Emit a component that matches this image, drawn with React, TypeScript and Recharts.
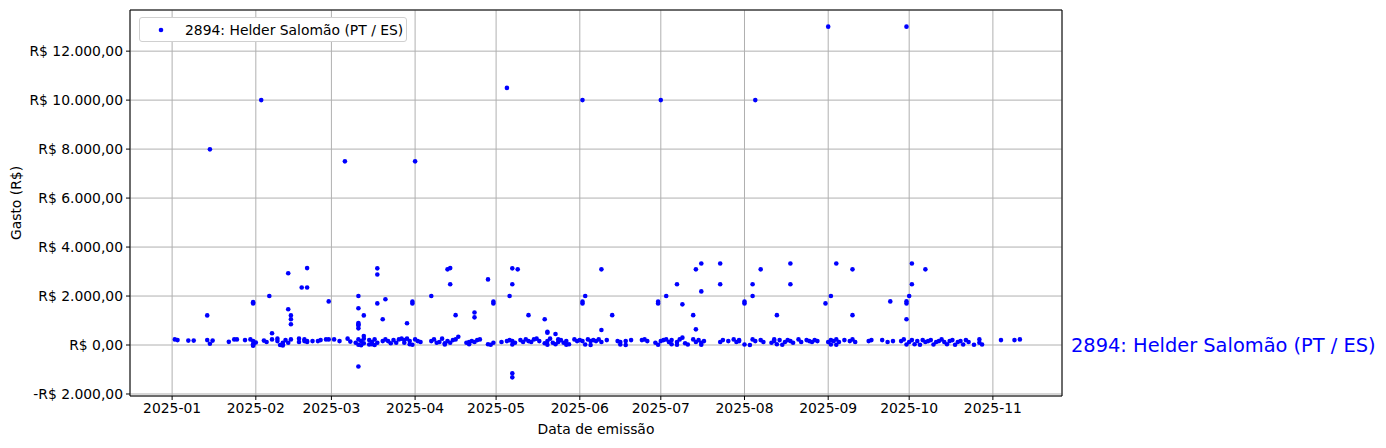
import {
  ScatterChart,
  Scatter,
  XAxis,
  YAxis,
  CartesianGrid,
  Legend,
  ReferenceDot,
  ReferenceLine,
} from "recharts";

const DIA_MS = 86400000;
const INICIO = Date.UTC(2025, 0, 1);

const deputado = "2894: Helder Salomão (PT / ES)";

const meses = [
  "2025-01", "2025-02", "2025-03", "2025-04", "2025-05", "2025-06",
  "2025-07", "2025-08", "2025-09", "2025-10", "2025-11",
];
const ticksGasto = [-2000, 0, 2000, 4000, 6000, 8000, 10000, 12000];

// dias contados a partir de 2025-01-01
const diasAltos = [14, 33, 64, 90, 124, 152, 181, 216, 243, 272];
const gastosAltos = [7990, 10000, 7500, 7500, 10500, 10000, 10000, 10000, 13000, 13000];

const diasMedios = [
  13, 30, 30, 36, 43, 43, 44, 44, 44, 37, 48, 50, 50, 58, 69, 69, 71, 69, 69, 69, 69, 69, 71,
  76, 76, 76, 79, 78, 87, 89, 89, 96, 102, 103, 103, 105, 112, 112, 117, 119, 119, 125, 126,
  128, 126, 126, 126, 132, 138, 139, 139, 142, 152, 152, 153, 159, 159, 163, 180, 180, 183,
  187, 189, 194, 196, 196, 193, 194, 203, 203, 212, 212, 215, 215, 218, 224, 229, 229, 242,
  244, 246, 252, 252, 266, 272, 272, 272, 273, 274, 274, 279,
];
const gastosMedios = [
  1210, 1750, 1700, 2000, 2930, 1460, 1210, 1050, 850, 480, 2350, 2350, 3140, 1780, 2000, 1500,
  1210, 900, 850, 800, 680, -880, 370,
  3130, 2880, 1700, 1870, 1050, 890, 1770, 1700, 2000, 3090, 3140, 2480, 1220, 1330, 1130,
  2680, 1770, 1700, 2000, 3130, 3090, 2480, -1150, -1320, 1220, 1050, 540, 500, 450, 1770,
  1700, 2000, 3090, 610, 1220, 1770, 1700, 2000, 2480, 1660, 3090, 3330, 2190, 1220, 640,
  3330, 2480, 1770, 1700, 2480, 2000, 3090, 1220, 3330, 2480, 1700, 2000, 3330, 3090, 1220,
  1780, 1780, 1700, 1050, 2000, 3330, 2480, 3090,
];

const diasBaixos = [
  1, 2, 6, 8, 13, 15, 14, 21, 23, 24, 27, 29, 30, 30, 30, 31, 34, 35, 37, 39, 39, 41, 41, 42,
  43, 44, 47, 47, 49, 49, 50,
  50, 52, 54, 55, 57, 58, 60, 62, 65, 66, 68, 69, 70, 71, 71, 73, 74, 74, 75, 76, 78, 79, 80,
  81, 82, 83, 84, 85, 86, 86, 87, 88, 90, 91, 92, 96, 97, 98, 99, 100, 101, 102, 103, 104,
  105, 106, 109, 110, 111, 112, 113, 114, 117, 119, 122, 124, 125, 126, 127, 129, 130, 131,
  132, 133, 134, 135, 136, 138, 139, 140, 141, 143, 143, 144, 145, 146, 147, 149, 150, 151,
  152, 154, 155, 156,
  157, 158, 159, 161, 165, 166, 168, 170, 174, 175, 176, 179, 181, 182, 183, 184, 185, 187,
  188, 189, 190, 193, 194, 195, 196, 197, 203, 204, 206, 208, 209, 210,
  210, 215, 216, 218, 219, 222, 223, 223, 225, 227, 228, 229, 230, 232, 233, 235, 236, 237,
  238, 239, 243, 244, 245, 246, 247, 249, 251, 252, 253, 258, 259,
  263, 265, 267, 270, 271, 273, 274, 276, 278, 279, 280, 281, 283, 284, 285, 286, 288, 289,
  291, 292, 294, 295, 299, 299, 307, 312, 314,
  30, 40, 41, 69, 70, 73, 75, 88, 89, 101, 110, 118, 126, 139, 142, 146, 153, 155, 166, 168,
  180, 185, 187, 191, 196, 212, 214, 224, 226, 244, 246, 272, 275, 277, 282, 287, 290, 293,
  297, 300,
];
const gastosBaixos = [
  230, 200, 180, 180, 200, 180, 50, 130, 230, 230, 200, 230, 160, 30, -30, 100, 180, 120, 230,
  260, 160, 95, 30, 200, 95, 230, 260, 120, 160, 230, 120,
  160, 160, 160, 200, 230, 230, 230, 160, 260, 140, 95, 230, 160, 70, 260, 200, 120, 30, 230,
  95, 160, 230, 160, 70, 200, 95, 230, 260, 95, 200, 260, 160, 230, 160, 120, 160, 230, 95,
  120, 260, 70, 160, 95, 200,
  230, 340, 95, 120, 160, 120, 200, 230, 30, 95, 120, 160, 200, 160, 95, 200, 120, 230, 160,
  120, 230, 260, 160, 70, 160, 260, 95, 230, 120, 200, 95, 160, 30, 230, 160, 200, 160, 230,
  160, 200,
  160, 230, 120, 200, 160, 120, 160, 200, 200, 230, 160, 95, 160, 200, 230, 120, 200, 120,
  230, 300, 70, 230, 120, 200, 95, 160, 120, 200, 160, 230, 120, 200,
  160, 230, 160, 200, 120, 95, 230, 160, 200, 120, 200, 160, 95, 230, 120, 200, 160, 120, 200,
  160, 120, 200, 160, 230, 120, 200, 160, 230, 120, 160, 200,
  200, 120, 160, 160, 230, 120, 200, 160, 200, 120, 160, 200, 120, 160, 230, 120, 160, 200,
  120, 160, 200, 120, 230, 95, 200, 200, 230,
  0, 0, -20, 10, -10, 20, 0, 30, 10, 20, 30, 10, 20, 10, 30, 10, 20, 0, 20, 0, 10, 30, 10, 20,
  10, 20, 0, 30, 10, 20, 10, 20, 30, 10, 20, 30, 10, 20, 10, 20,
];

const paraData = (d: number) => INICIO + d * DIA_MS;

const pontos = [
  ...diasBaixos.map((d, i) => ({ x: paraData(d), y: gastosBaixos[i] })),
  ...diasMedios.map((d, i) => ({ x: paraData(d), y: gastosMedios[i] })),
  ...diasAltos.map((d, i) => ({ x: paraData(d), y: gastosAltos[i] })),
];

const xMin = paraData(-15.6);
const xMax = paraData(329.6);
const yMin = -2082;
const yMax = 13680;

const ticksMes = meses.map((m) => {
  const [a, mm] = m.split("-").map(Number);
  return Date.UTC(a, mm - 1, 1);
});

const fonte = "'DejaVu Sans', sans-serif";

function formataMes(t: number) {
  const d = new Date(t);
  return `${d.getUTCFullYear()}-${String(d.getUTCMonth() + 1).padStart(2, "0")}`;
}

function formataReal(v: number) {
  const [inteiro, dec] = Math.abs(v).toFixed(2).split(".");
  const milhar = inteiro.replace(/\B(?=(\d{3})+(?!\d))/g, ".");
  return `${v < 0 ? "-" : ""}R$ ${milhar},${dec}`;
}

const Ponto = (props: any) => (
  <circle cx={props.cx} cy={props.cy} r={2.3} fill="#0000ff" />
);

const Legenda = () => (
  <div
    style={{
      display: "flex",
      alignItems: "center",
      width: 266,
      height: 23,
      border: "1px solid #d0d0d0",
      borderRadius: 3,
      background: "#fff",
      fontFamily: fonte,
      fontSize: 13.9,
      color: "#000",
    }}
  >
    <svg width={45} height={23}>
      <circle cx={21} cy={12} r={2.3} fill="#0000ff" />
    </svg>
    <span>{deputado}</span>
  </div>
);

const RotuloY = (props: any) => {
  const vb = props.viewBox;
  const cy = vb.y + vb.height / 2;
  return (
    <text
      x={16}
      y={cy}
      transform={`rotate(-90, 16, ${cy})`}
      textAnchor="middle"
      dominantBaseline="central"
      fontFamily={fonte}
      fontSize={13.9}
      fill="#000"
    >
      Gasto (R$)
    </text>
  );
};

export default function App() {
  return (
    <div style={{ position: "absolute", left: 0, top: 0, background: "#fff" }}>
      <ScatterChart
        width={1386}
        height={448}
        margin={{ top: 10, right: 324, bottom: 4, left: 0 }}
      >
        <CartesianGrid stroke="#b0b0b0" strokeWidth={1} />
        <XAxis
          type="number"
          dataKey="x"
          domain={[xMin, xMax]}
          allowDataOverflow
          ticks={ticksMes}
          tickFormatter={formataMes}
          height={48}
          tickSize={4}
          tickMargin={3}
          stroke="#000"
          tick={{ fill: "#000", fontSize: 13.9, fontFamily: fonte }}
          label={{
            value: "Data de emissão",
            position: "insideBottom",
            offset: 10,
            fill: "#000",
            fontSize: 13.9,
            fontFamily: fonte,
          }}
        />
        <YAxis
          type="number"
          dataKey="y"
          domain={[yMin, yMax]}
          allowDataOverflow
          ticks={ticksGasto}
          tickFormatter={formataReal}
          width={130}
          tickSize={4}
          tickMargin={3}
          stroke="#000"
          tick={{ fill: "#000", fontSize: 13.9, fontFamily: fonte }}
          label={{ content: RotuloY }}
        />
        <ReferenceLine y={yMax} stroke="#000" strokeWidth={1} />
        <ReferenceLine x={xMax} stroke="#000" strokeWidth={1} />
        <Legend
          layout="vertical"
          align="center"
          verticalAlign="middle"
          content={Legenda}
          wrapperStyle={{ top: 17, left: 139, width: "auto", height: "auto" }}
        />
        <Scatter
          name={deputado}
          data={pontos}
          fill="#0000ff"
          shape={Ponto}
          isAnimationActive={false}
        />
        <ReferenceDot
          x={xMax}
          y={0}
          r={1}
          fill="none"
          stroke="none"
          ifOverflow="visible"
          label={{
            value: deputado,
            position: "right",
            offset: 8,
            fill: "#0000ff",
            fontSize: 19.4,
            fontFamily: fonte,
          }}
        />
      </ScatterChart>
    </div>
  );
}
